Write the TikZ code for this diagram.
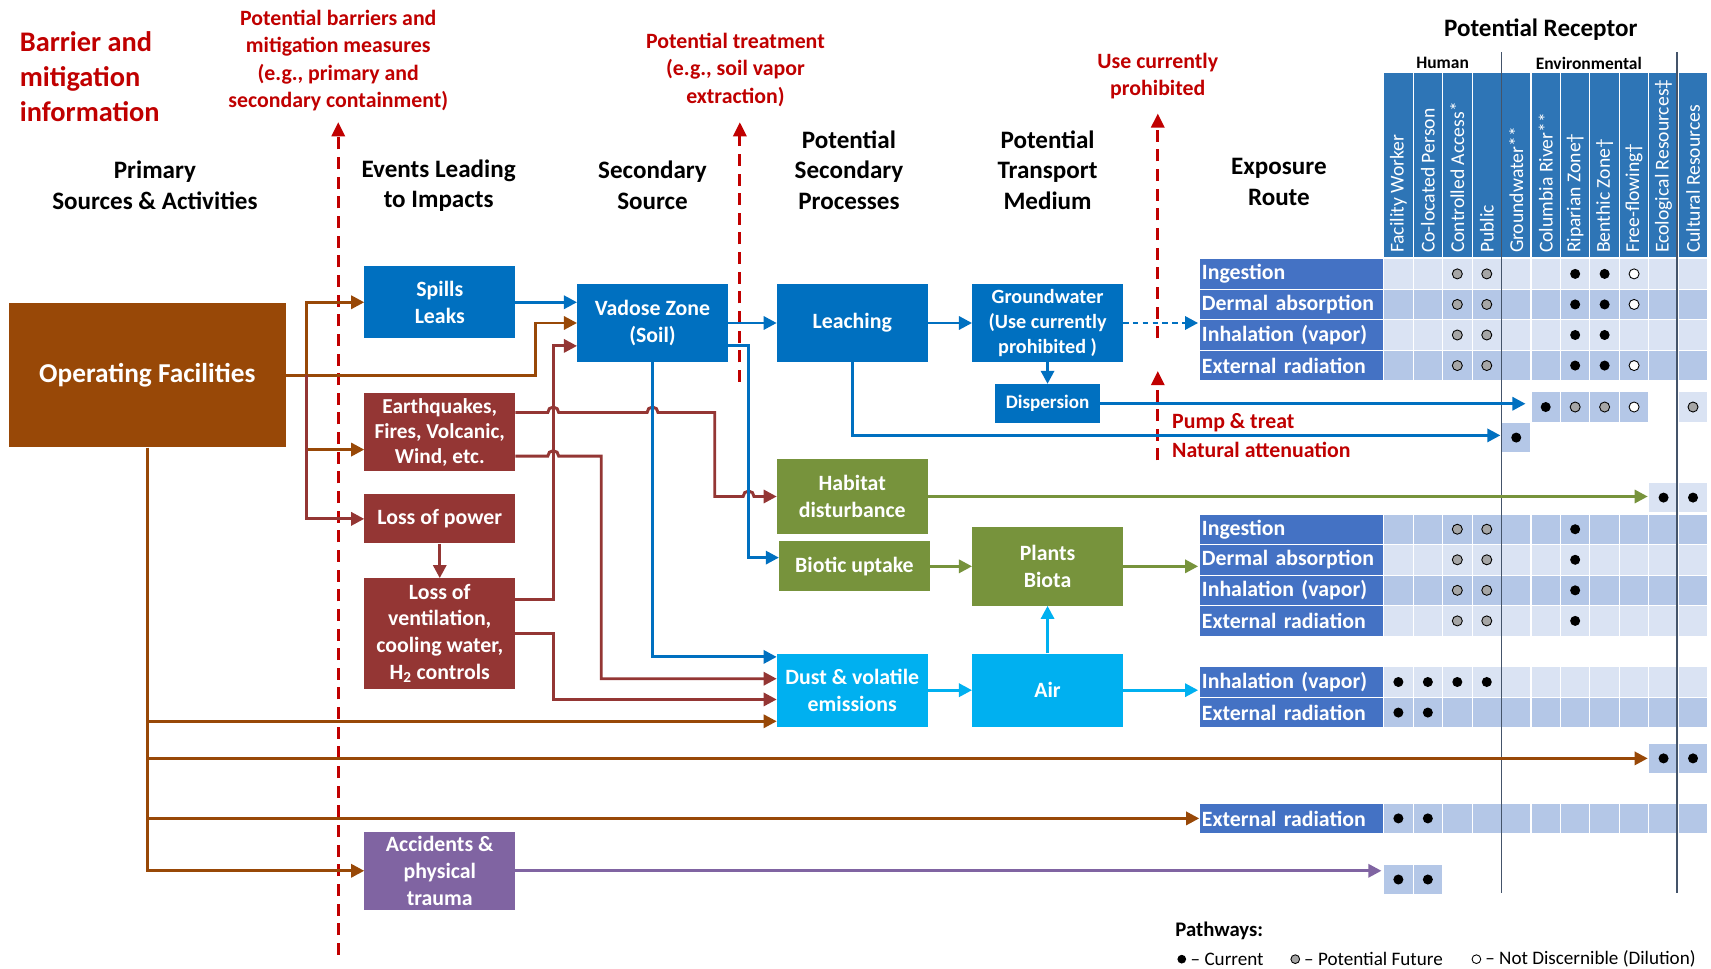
\documentclass[tikz,border=0pt]{standalone}
\usepackage{fontspec}
\setmainfont{Carlito}
\usetikzlibrary{arrows.meta,calc}

\definecolor{cblue}{HTML}{0070C0}
\definecolor{cred}{HTML}{943634}
\definecolor{corange}{HTML}{984807}
\definecolor{cgreen}{HTML}{77933C}
\definecolor{ccyan}{HTML}{00B0F0}
\definecolor{cpurple}{HTML}{8064A2}
\definecolor{labblue}{HTML}{4472C4}
\definecolor{hdrblue}{HTML}{2E75B6}
\definecolor{celllt}{HTML}{DAE3F3}
\definecolor{cellmd}{HTML}{B4C7E7}
\definecolor{warn}{HTML}{C00000}
\definecolor{rulecol}{HTML}{44546A}
\definecolor{dotgray}{HTML}{A6A6A6}

\newcommand\fsz[2]{\fontsize{#1}{#2}\selectfont}

% a run of receptor cells: top edge, first column, last column, fill colour
\newcommand\cellrun[4]{%
  \foreach \c in {#2,...,#3}{%
    \fill[#4, draw=white, line width=1pt] ({1268+27*(\c-1)},#1) rectangle ++(27,28);}}
% a pathway marker: column, vertical centre, style
\newcommand\rdot[3]{\path[#3] ({1254.5+27*#1},#2) circle[radius=4.6pt];}

\tikzset{
  box/.style={text=white, align=center, inner sep=0pt, font=\fsz{20}{24.5}\bfseries},
  head/.style={align=center, inner sep=0pt, font=\fsz{23}{28}\bfseries},
  note/.style={align=center, inner sep=0pt, text=warn, font=\fsz{20}{25}\bfseries},
  wire/.style={line width=2.7pt},
  arrowtip/.style={-{Triangle[length=12pt,width=12pt]}},
  bluearr/.style={wire, arrowtip, draw=cblue},
  redarr/.style={wire, arrowtip, draw=cred},
  orarr/.style={wire, arrowtip, draw=corange},
  grarr/.style={wire, arrowtip, draw=cgreen},
  cyarr/.style={wire, arrowtip, draw=ccyan},
  puarr/.style={wire, arrowtip, draw=cpurple},
  barrier/.style={line width=2.7pt, draw=warn, dash pattern=on 11pt off 7pt,
                  -{Triangle[length=13pt,width=12pt]}},
  lab/.style={fill=labblue, draw=white, line width=1pt, text=white,
              font=\fsz{20}{24}\bfseries, text width=164pt, align=left,
              inner xsep=2pt, inner ysep=0pt, minimum height=28pt, anchor=west},
  colhead/.style={rotate=90, anchor=west, text=white, font=\fsz{18}{20}\selectfont, inner sep=1pt},
  dotB/.style={fill=black},
  dotG/.style={fill=dotgray, draw=black, line width=0.8pt},
  dotW/.style={fill=white, draw=black, line width=0.8pt},
}

\begin{document}
\begin{tikzpicture}[x=1pt,y=-1pt]
\useasboundingbox (0,0) rectangle (1568,888);
\fill[white] (0,0) rectangle (1568,888);

% ---------- column titles ----------
\node[head] (h1) at (142,170) {Primary\\Sources \& Activities};
\node[head] (h2) at (402,170) {Events Leading\\to Impacts};
\node[head] (h3) at (598,170) {Secondary\\Source};
\node[head] (h4) at (778,156) {Potential\\Secondary\\Processes};
\node[head] (h5) at (960,156) {Potential\\Transport\\Medium};
\node[head] (h6) at (1172,167) {Exposure\\Route};
\node[head] (h7) at (1412,27) {Potential Receptor};
\node[font=\fsz{16}{18}\bfseries, inner sep=0pt] (hum) at (1322,58) {Human};
\node[font=\fsz{16}{18}\bfseries, inner sep=0pt] (envr) at (1456,58) {Environmental};

% ---------- barrier notes ----------
\node[note, align=left, anchor=west, font=\fsz{26}{32}\bfseries] (bm) at (18,70)
  {Barrier and\\mitigation\\information};
\node[note] (pb) at (310,55.5) {Potential barriers and\\mitigation measures\\(e.g., primary and\\secondary containment)};
\node[note] (pt) at (674,64) {Potential treatment\\(e.g., soil vapor\\extraction)};
\node[note] (uc) at (1061,70) {Use currently\\prohibited};
\node[note, anchor=west] (pump) at (1074,387) {Pump \& treat};
\node[note, anchor=west] (nat) at (1074,412) {Natural attenuation};

% ---------- receptor header ----------
\foreach \c/\t in {1/Facility Worker, 2/Co-located Person, 3/Controlled Access*, 4/Public,
                   5/Groundwater**, 6/Columbia River**, 7/Riparian Zone†, 8/Benthic Zone†,
                   9/Free-flowing†, 10/Ecological Resources‡, 11/Cultural Resources}{
  \fill[hdrblue, draw=white, line width=1pt] ({1268+27*(\c-1)},66) rectangle ++(27,170);
  \node[colhead] at ({1254.5+27*\c},233) {\t};
}

% ---------- exposure tables ----------
% groundwater group
\node[lab] (g1a) at (1099,251) {Ingestion};
\node[lab] (g1b) at (1099,279) {Dermal absorption};
\node[lab] (g1c) at (1099,307) {Inhalation (vapor)};
\node[lab] (g1d) at (1099,335) {External radiation};
\cellrun{237}{1}{11}{celllt}
\cellrun{265}{1}{11}{cellmd}
\cellrun{293}{1}{11}{celllt}
\cellrun{321}{1}{11}{cellmd}
\foreach \y in {251,279,335}{\rdot{3}{\y}{dotG}\rdot{4}{\y}{dotG}\rdot{7}{\y}{dotB}\rdot{8}{\y}{dotB}\rdot{9}{\y}{dotW}}
\rdot{3}{307}{dotG}\rdot{4}{307}{dotG}\rdot{7}{307}{dotB}\rdot{8}{307}{dotB}

% dispersion and leaching receptors
\cellrun{359}{6}{9}{cellmd}
\cellrun{359}{11}{11}{celllt}
\rdot{6}{373}{dotB}\rdot{7}{373}{dotG}\rdot{8}{373}{dotG}\rdot{9}{373}{dotW}\rdot{11}{373}{dotG}
\cellrun{387}{5}{5}{cellmd}
\rdot{5}{401}{dotB}

% habitat receptors
\cellrun{442}{10}{11}{celllt}
\rdot{10}{456}{dotB}\rdot{11}{456}{dotB}

% plants / biota group
\node[lab] (g2a) at (1099,485) {Ingestion};
\node[lab] (g2b) at (1099,513) {Dermal absorption};
\node[lab] (g2c) at (1099,541) {Inhalation (vapor)};
\node[lab] (g2d) at (1099,569) {External radiation};
\cellrun{471}{1}{11}{cellmd}
\cellrun{499}{1}{11}{celllt}
\cellrun{527}{1}{11}{cellmd}
\cellrun{555}{1}{11}{celllt}
\foreach \y in {485,513,541,569}{\rdot{3}{\y}{dotG}\rdot{4}{\y}{dotG}\rdot{7}{\y}{dotB}}

% air group
\node[lab] (g3a) at (1099,625) {Inhalation (vapor)};
\node[lab] (g3b) at (1099,653) {External radiation};
\cellrun{611}{1}{11}{celllt}
\cellrun{639}{1}{11}{cellmd}
\foreach \c in {1,2,3,4}{\rdot{\c}{625}{dotB}}
\rdot{1}{653}{dotB}\rdot{2}{653}{dotB}

% direct facility receptors
\cellrun{681}{10}{11}{cellmd}
\rdot{10}{695}{dotB}\rdot{11}{695}{dotB}
\node[lab] (g4) at (1099,750) {External radiation};
\cellrun{736}{1}{11}{cellmd}
\rdot{1}{750}{dotB}\rdot{2}{750}{dotB}
\cellrun{792}{1}{2}{cellmd}
\rdot{1}{806}{dotB}\rdot{2}{806}{dotB}

% human / environmental dividers
\draw[rulecol, line width=1.8pt] (1376,48) -- (1376,818);
\draw[rulecol, line width=1.8pt] (1537,48) -- (1537,818);

% ---------- process boxes ----------
\node[box, fill=corange, minimum width=254pt, minimum height=132pt, font=\fsz{25}{30}\bfseries] (of) at (135,344) {Operating Facilities};
\node[box, fill=cblue, minimum width=138pt, minimum height=66pt] (spills) at (403,277) {Spills\\Leaks};
\node[box, fill=cred, minimum width=138pt, minimum height=72pt, font=\fsz{19.5}{23}\bfseries] (eq) at (403,396) {Earthquakes,\\Fires, Volcanic,\\Wind, etc.};
\node[box, fill=cred, minimum width=138pt, minimum height=45pt] (lop) at (403,475.5) {Loss of power};
\node[box, fill=cred, minimum width=138pt, minimum height=101pt] (lov) at (403,580.5) {Loss of\\ventilation,\\cooling water,\\H\textsubscript{2} controls};
\node[box, fill=cpurple, minimum width=138pt, minimum height=72pt] (acc) at (403,798) {Accidents \&\\physical\\trauma};
\node[box, fill=cblue, minimum width=138pt, minimum height=72pt] (vadose) at (598,296) {Vadose Zone\\(Soil)};
\node[box, fill=cblue, minimum width=138pt, minimum height=72pt] (leach) at (781,296) {Leaching};
\node[box, fill=cblue, minimum width=138pt, minimum height=72pt, font=\fsz{18.5}{23}\bfseries] (gw) at (960,296) {Groundwater\\(Use currently\\prohibited )};
\node[box, fill=cblue, minimum width=96pt, minimum height=36pt, font=\fsz{17.5}{21}\bfseries] (disp) at (960,370) {Dispersion};
\node[box, fill=cgreen, minimum width=138pt, minimum height=68pt] (hab) at (781,455) {Habitat\\disturbance};
\node[box, fill=cgreen, minimum width=138pt, minimum height=46pt] (bio) at (783,519) {Biotic uptake};
\node[box, fill=cgreen, minimum width=138pt, minimum height=72pt] (plants) at (960,519) {Plants\\Biota};
\node[box, fill=ccyan, minimum width=138pt, minimum height=67pt] (dust) at (781,632.5) {Dust \& volatile\\emissions};
\node[box, fill=ccyan, minimum width=138pt, minimum height=67pt] (air) at (960,632.5) {Air};

% ---------- table entry points ----------
\coordinate (t1) at (1098,296);
\coordinate (tdisp) at (1398,370);
\coordinate (tleach) at (1375,399);
\coordinate (thab) at (1510,455);
\coordinate (t2) at (1098,519);
\coordinate (t3) at (1098,632.5);
\coordinate (teco) at (1510,695);
\coordinate (tacc) at (1266,798);

% ---------- barrier arrows ----------
\coordinate (b1s) at (310,875); \coordinate (b1e) at (310,112);
\coordinate (b2s) at (678,350); \coordinate (b2e) at (678,112);
\coordinate (b3s) at (1061,310); \coordinate (b3e) at (1061,104);
\coordinate (b4s) at (1061,422); \coordinate (b4e) at (1061,340);
\draw[barrier] (b1s) -- (b1e);
\draw[barrier] (b2s) -- (b2e);
\draw[barrier] (b3s) -- (b3e);
\draw[barrier] (b4s) -- (b4e);

% ---------- facility connectors ----------
\draw[orarr] (of.east) -- (491,344) |- (vadose.west);
\draw[orarr] (281,344) |- (spills.west);
\draw[orarr] (281,344) |- ([yshift=-16pt]eq.west);
\draw[redarr] (281,344) |- (lop.west);
\draw[orarr] (of.south) |- (acc.west);
\draw[orarr] (135,661) -- ([yshift=-28.5pt]dust.west);
\draw[orarr] (135,695) -- (teco);
\draw[orarr] (135,750) -- (g4.west);

% ---------- event connectors ----------
\draw[bluearr] (spills.east) -- (spills.east -| vadose.west);
\draw[redarr] (lop.south) -- (lov.north);
\draw[redarr] ([yshift=31.5pt]lov.east) -- (507,549) -- (507,317) -- ([yshift=-21pt]vadose.west);
\draw[redarr] (lov.east) -- (507,580.5) -- (507,641) -- ([yshift=-8.5pt]dust.west);
\draw[redarr] ([yshift=18pt]eq.east) -- (502,378) arc[start angle=180,end angle=0,radius=5pt]
  -- (593,378) arc[start angle=180,end angle=0,radius=5pt]
  -- (655,378) -- (655,455) -- (681,455) arc[start angle=180,end angle=0,radius=5pt]
  -- (hab.west);
\draw[redarr] ([yshift=-22pt]eq.east) -- (502,418) arc[start angle=180,end angle=0,radius=5pt]
  -- (551,418) -- (551,622) -- ([yshift=10.5pt]dust.west);

% ---------- secondary source connectors ----------
\draw[bluearr] (vadose.east) -- (leach.west);
\draw[bluearr] ([yshift=-21pt]vadose.east) -- (686,317) -- (686,511) -- ([yshift=8pt]bio.west);
\draw[bluearr] (vadose.south) |- ([yshift=30.5pt]dust.west);
\draw[bluearr] (leach.east) -- (gw.west);
\draw[bluearr, dash pattern=on 5pt off 4pt] (gw.east) -- (t1);
\draw[bluearr] (gw.south) -- (disp.north);
\draw[bluearr] (disp.east) -- (tdisp);
\draw[bluearr] (leach.south) |- (tleach);

% ---------- biota and air connectors ----------
\draw[grarr] (hab.east) -- (thab);
\draw[grarr] (bio.east) -- (bio.east -| plants.west);
\draw[grarr] (plants.east) -- (t2);
\draw[cyarr] (dust.east) -- (air.west);
\draw[cyarr] (air.north) -- (plants.south);
\draw[cyarr] (air.east) -- (t3);
\draw[puarr] (acc.east) -- (tacc);

% ---------- legend ----------
\node[anchor=west, inner sep=0pt, font=\fsz{19}{21}\bfseries] (pw) at (1077,853) {Pathways:};
\path[dotB] (1083,879) circle[radius=4pt];
\node[anchor=west, inner sep=0pt, font=\fsz{17.5}{20}\selectfont] (lg1) at (1091,879) {– Current};
\path[dotG] (1187,879) circle[radius=4pt];
\node[anchor=west, inner sep=0pt, font=\fsz{17.5}{20}\selectfont] (lg2) at (1195,879) {– Potential Future};
\path[dotW] (1353,879) circle[radius=4pt];
\node[anchor=west, inner sep=0pt, font=\fsz{17.5}{20}\selectfont] (lg3) at (1361,879) {– Not Discernible (Dilution)};
\end{tikzpicture}
\end{document}
